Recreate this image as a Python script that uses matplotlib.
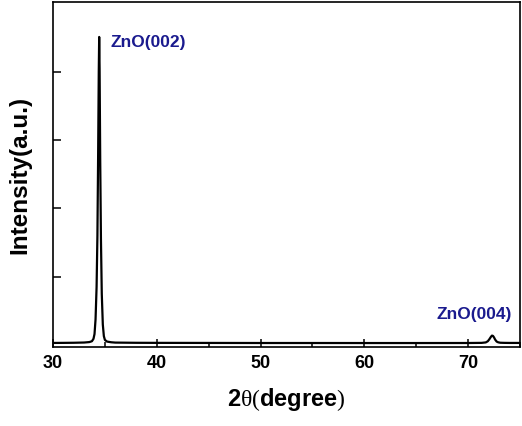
import matplotlib
matplotlib.use("Agg")
import matplotlib.pyplot as plt
import numpy as np

# XRD pattern (2theta, counts)
two_theta = [30.0, 31.0, 32.0, 33.0, 33.5, 33.75, 33.9, 34.0, 34.1, 34.2, 34.28,
             34.35, 34.41, 34.45, 34.49, 34.55, 34.62, 34.7, 34.8, 34.9, 35.0,
             35.2, 35.6, 36.0, 38.0, 40.0, 45.0, 50.0, 55.0, 60.0, 65.0, 70.0,
             71.3, 71.7, 71.9, 72.05, 72.2, 72.3, 72.4, 72.5, 72.6, 72.75,
             72.9, 73.1, 73.5, 74.0, 75.0]
intensity = [60, 62, 65, 72, 85, 110, 180, 320, 750, 1700, 3200,
             5600, 8000, 9020, 8100, 5400, 3100, 1500, 600, 260, 150,
             100, 80, 70, 64, 62, 60, 58, 58, 57, 57, 58,
             62, 75, 110, 170, 240, 275, 265, 220, 160, 100,
             78, 66, 62, 60, 60]

peak_labels = ["ZnO(002)", "ZnO(004)"]
peak_label_pos = [(35.5, 8870), (67.0, 880)]

plt.rcParams['font.family'] = ['Liberation Sans', 'DejaVu Sans']
plt.rcParams['mathtext.fontset'] = 'custom'
plt.rcParams['mathtext.rm'] = 'Liberation Serif'
plt.rcParams['mathtext.bf'] = 'Liberation Sans:bold'

fig = plt.figure(figsize=(5.22, 4.26), dpi=100)
ax = fig.add_axes([53/522, 79/426, 467/522, 345/426])

ax.plot(two_theta, intensity, color='black', lw=1.6)

for lab, (px, py) in zip(peak_labels, peak_label_pos):
    ax.text(px, py, lab, color='#1a1a8e', fontsize=12.5, fontweight='bold',
            va='center', ha='left')

ax.set_xlim(30, 75)
ax.set_ylim(-59, 10044)
ax.set_xticks([30, 40, 50, 60, 70])
ax.set_xticks([35, 45, 55, 65, 75], minor=True)
ax.set_yticks([2000, 4000, 6000, 8000])
ax.set_yticklabels([])
ax.tick_params(axis='both', which='both', direction='in', width=1.1)
ax.tick_params(axis='both', which='major', length=6)
ax.tick_params(axis='x', which='minor', length=3.5)
ax.tick_params(axis='x', labelsize=13, pad=6)
for t in ax.get_xticklabels():
    t.set_fontweight('bold')
for s in ax.spines.values():
    s.set_linewidth(1.2)

ax.set_ylabel("Intensity(a.u.)", fontsize=17.5, fontweight='bold', labelpad=12)
ax.set_xlabel(r"$\mathbf{2}\mathrm{\theta(}\mathbf{degree}\mathrm{)}$", fontsize=17, labelpad=10)

fig.savefig("out.png", dpi=100)
